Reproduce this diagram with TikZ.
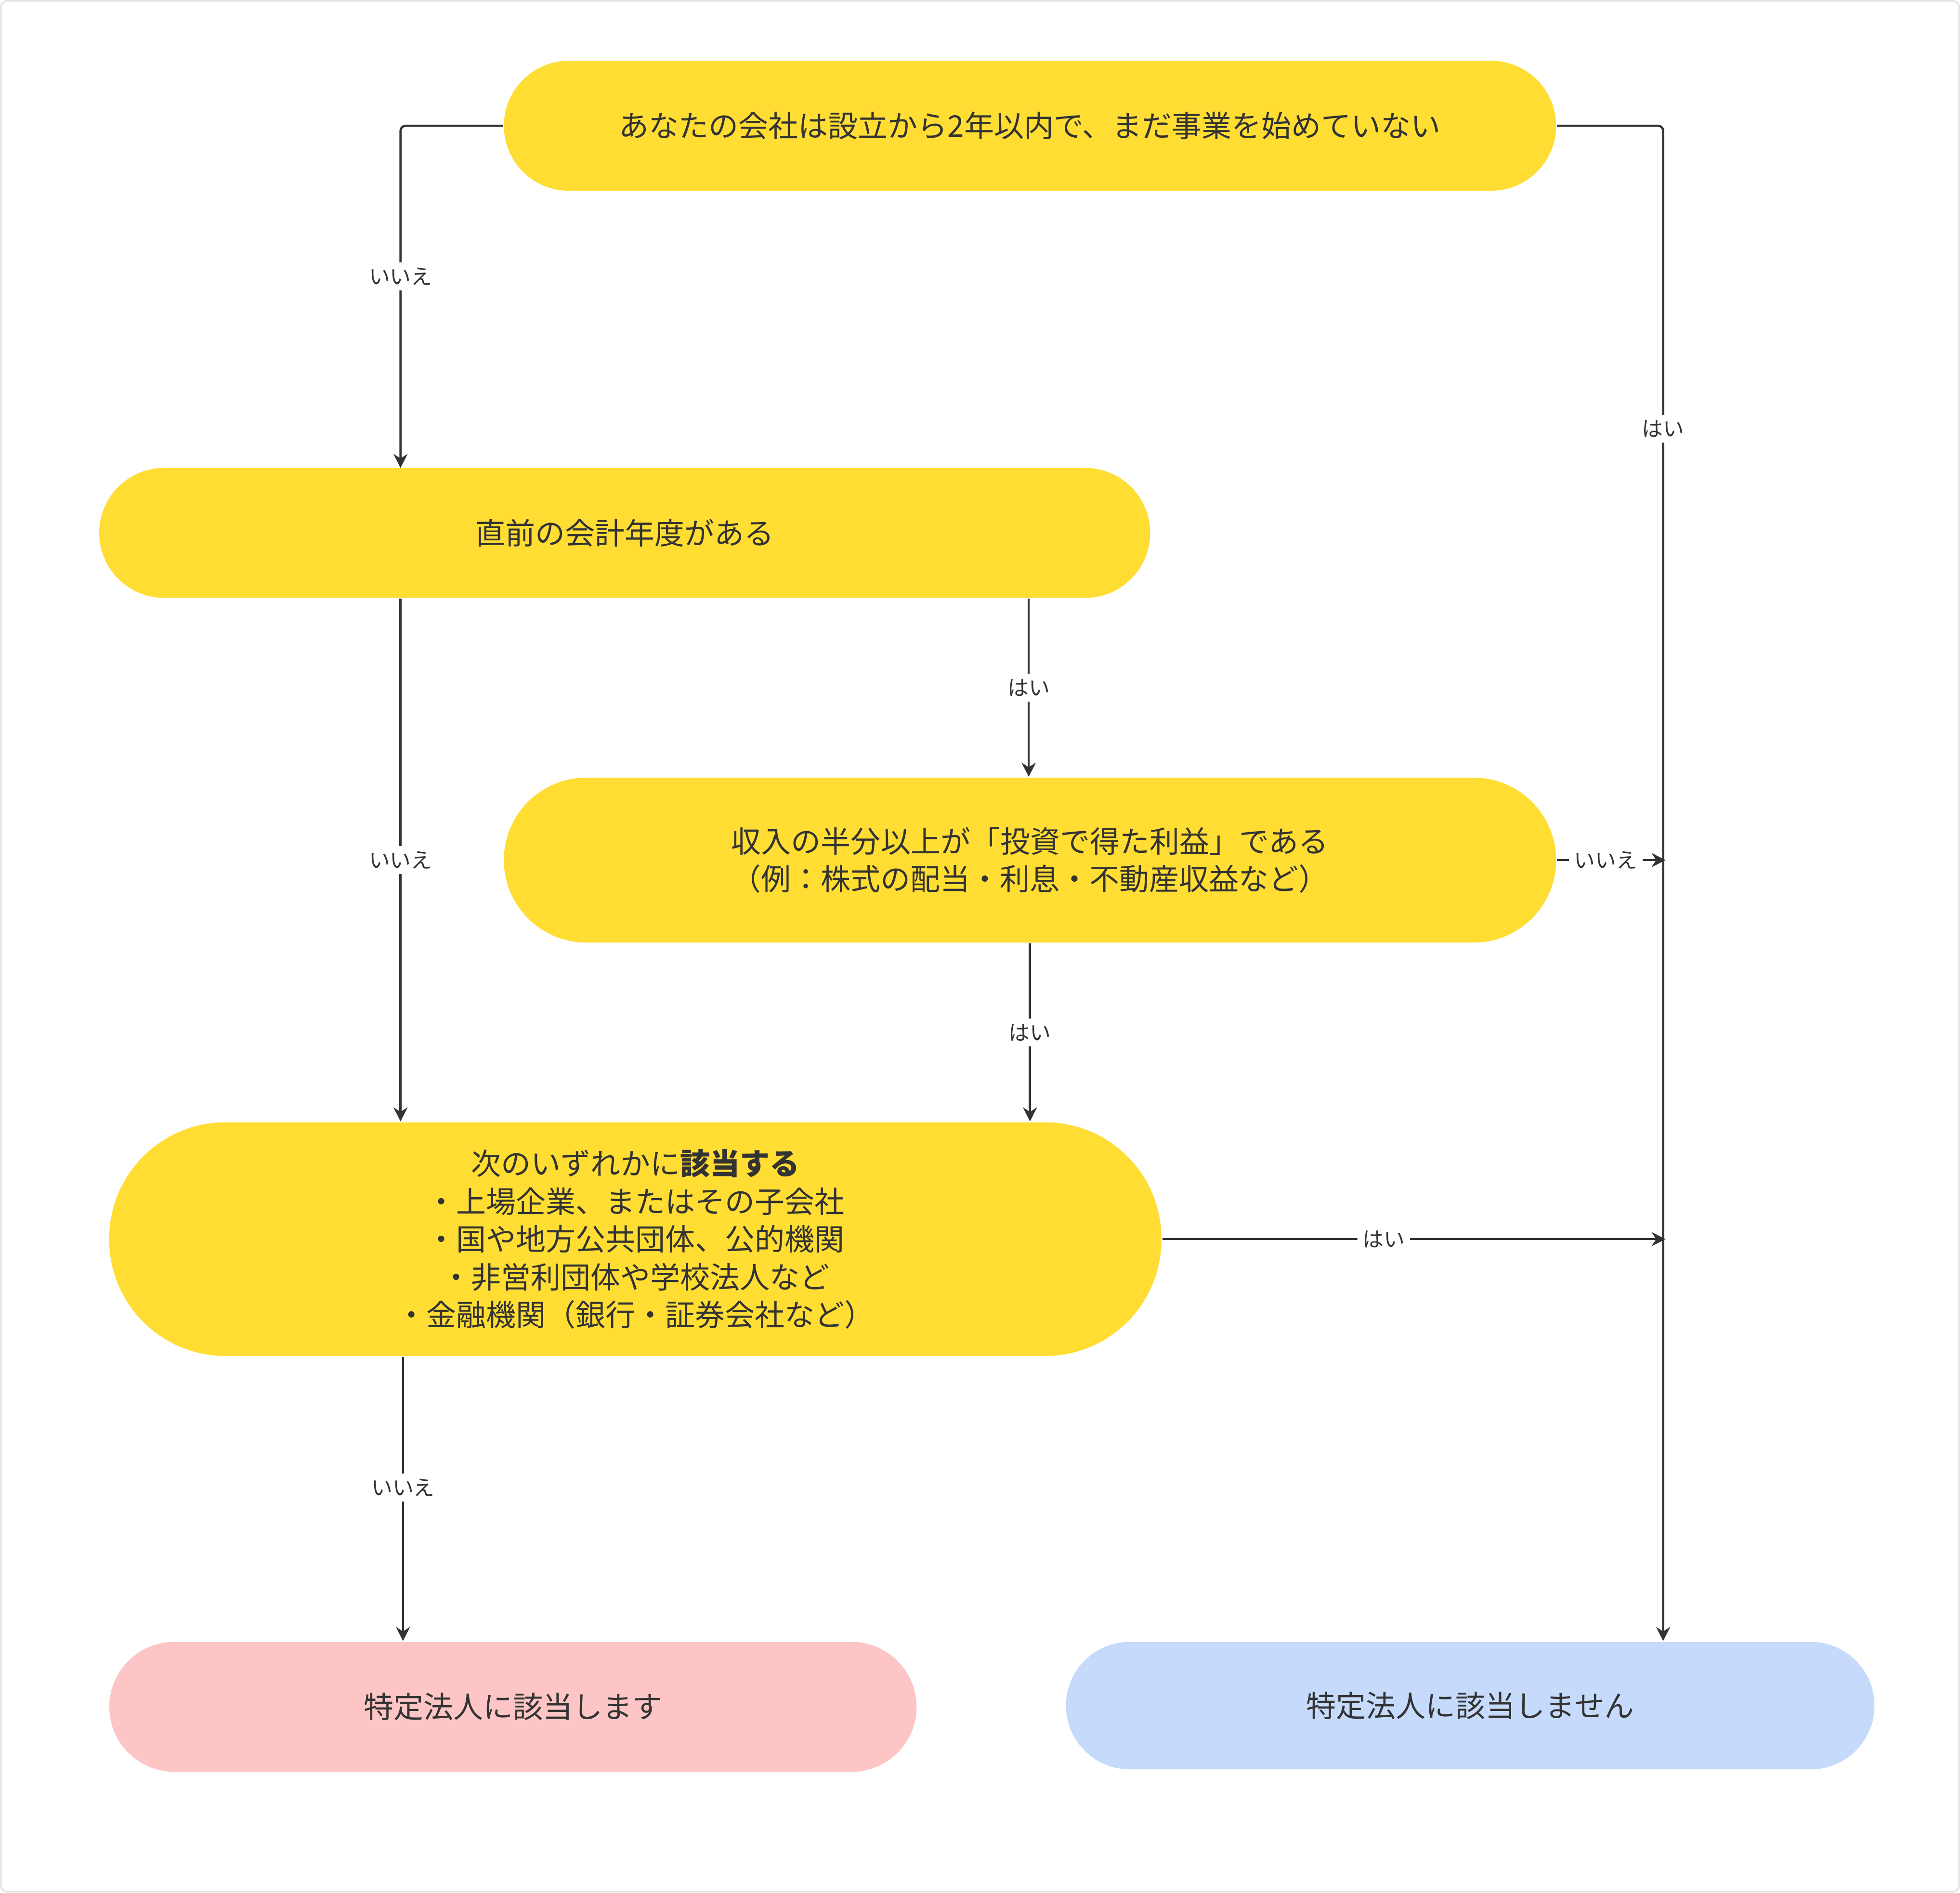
\documentclass[tikz,border=0pt]{standalone}
\usepackage{fontspec}
\setmainfont{Noto Sans CJK JP}
\usetikzlibrary{arrows.meta, positioning}
\definecolor{qyellow}{HTML}{FFDD33}
\definecolor{qpink}{HTML}{FDC5C5}
\definecolor{qblue}{HTML}{C6DBFB}
\definecolor{qline}{HTML}{333333}
\tikzset{
  box/.style={draw=none, rounded corners=#1, align=center, font=\fontsize{6.8}{8.6}\selectfont, text=qline, inner sep=0pt},
  lbl/.style={fill=white, font=\fontsize{4.8}{5}\selectfont, text=qline, inner sep=1.2pt},
  flow/.style={draw=qline, line width=0.5pt, -{Stealth[length=3.2pt,width=3.2pt]}, rounded corners=0.04cm}
}
\begin{document}
\begin{tikzpicture}[x=0.01cm, y=-0.01cm]
  % frame
  \draw[rounded corners=0.05cm, draw=black!10, fill=white] (0,0) rectangle (1568,1514);
  \useasboundingbox (0,0) rectangle (1568,1514);

  % question boxes
  \node[box=0.52cm, fill=qyellow, minimum width=8.42cm, minimum height=1.04cm] (start) at (824,100)
    {あなたの会社は設立から2年以内で、まだ事業を始めていない};
  \node[box=0.52cm, fill=qyellow, minimum width=8.41cm, minimum height=1.04cm] (fiscal) at (499.5,426)
    {直前の会計年度がある};
  \node[box=0.66cm, fill=qyellow, minimum width=8.42cm, minimum height=1.32cm] (income) at (824,688)
    {収入の半分以上が「投資で得た利益」である\\（例：株式の配当・利息・不動産収益など）};
  \node[box=0.93cm, fill=qyellow, minimum width=8.42cm, minimum height=1.87cm] (listed) at (508,991.5)
    {次のいずれかに\textbf{該当する}\\・上場企業、またはその子会社\\・国や地方公共団体、公的機関\\・非営利団体や学校法人など\\・金融機関（銀行・証券会社など）};

  % results
  \node[box=0.52cm, fill=qpink, minimum width=6.46cm, minimum height=1.04cm] (isTarget) at (410,1366)
    {特定法人に該当します};
  \node[box=0.51cm, fill=qblue, minimum width=6.47cm, minimum height=1.02cm] (notTarget) at (1176.5,1365)
    {特定法人に該当しません};

  % connectors
  \draw[flow] (start.west) -| node[lbl, pos=0.72] {いいえ} (320,374);
  \draw[flow] (start.east) -| node[lbl, pos=0.6] {はい} (notTarget.north -| 1331,0);
  \draw[flow] (fiscal.south -| 823,0) -- node[lbl] {はい} (income.north -| 823,0);
  \draw[flow] (fiscal.south -| 320,0) -- node[lbl] {いいえ} (listed.north -| 320,0);
  \coordinate (joinA) at (1333,688);
  \draw[flow] (income.east) -- node[lbl, pos=0.45] {いいえ} (joinA);
  \draw[flow] (income.south) -- node[lbl] {はい} (listed.north -| income.south);
  \coordinate (joinB) at (1333,991.5);
  \draw[flow] (listed.east) -- node[lbl, pos=0.44] {はい} (joinB);
  \draw[flow] (listed.south -| 322,0) -- node[lbl, pos=0.46] {いいえ} (isTarget.north -| 322,0);
\end{tikzpicture}
\end{document}
